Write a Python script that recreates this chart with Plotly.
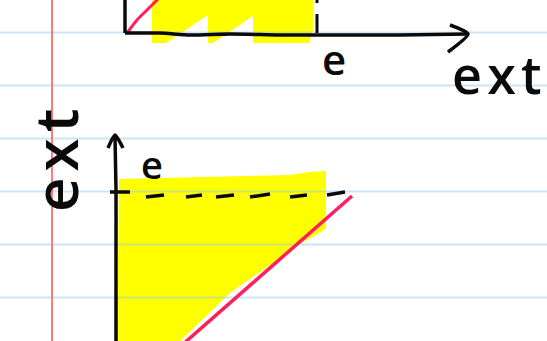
import plotly.graph_objects as go

# Page size in pixels; the sketch is drawn in page coordinates (y grows downward).
W, H = 547, 341

# Ruled notebook paper
rule_rows = [32.5, 85.5, 138.5, 191.5, 244.5, 297.5]
margin_x = 52

# --- upper sketch: horizontal "ext" axis ---
top_vaxis_x = [125, 125]
top_vaxis_y = [-5, 33]
top_haxis_x = [125, 160, 190, 230, 280, 320, 400, 468]
top_haxis_y = [33, 33, 35, 34, 35, 35, 35, 34]
top_arrow_x = [450, 468, 448]
top_arrow_y = [25, 34, 52]
top_curve_x = [127, 137, 147, 160]
top_curve_y = [33, 20, 10, -3]
top_mark_x = [317, 317]
top_mark_y = [14, 33]
top_dot_x = [317, 317]
top_dot_y = [-2, 3]
# highlighter strokes with a saw-tooth lower edge
top_fill_x = [152, 152, 166, 208, 208, 213, 253, 253, 309, 313, 313]
top_fill_y = [-5, 43, 43, 15, 43, 43, 16, 43, 43, 30, -5]

# --- lower sketch: vertical "ext" axis ---
low_vaxis_x = [115, 116, 116, 116, 116]
low_vaxis_y = [136, 190, 250, 300, 345]
low_arrow_x = [108, 115, 123]
low_arrow_y = [148, 135, 148]
low_tick_x = [110, 130]
low_tick_y = [192, 192]
dash_x0 = [146, 186, 216, 250, 290, 327]
dash_x1 = [164, 202, 234, 270, 307, 345]
dash_y0 = [197, 197, 197, 197, 197, 195]
dash_y1 = [195, 195, 195, 194, 195, 192]
low_line_x = [352, 182]
low_line_y = [196, 345]
low_fill_x = [119, 200, 290, 310, 326, 326, 300, 230, 176, 117]
low_fill_y = [179, 177, 175, 172, 171, 229, 244, 293, 345, 345]

# Labels: (text, x, y, size, angle)
labels = [
    ("e\u200ax\u200at", 497, 73, 52, 0),
    ("e", 334, 58, 42, 0),
    ("e", 152, 164, 38, 0),
    ("e\u200ax\u200at", 55, 161, 60, -90),
]

BLACK = "#0a0a0a"
PINK = "#ff1f5e"
YELLOW = "#ffff00"
RULE = "rgba(140,195,240,0.45)"

fig = go.Figure()


def stroke(xs, ys, color=BLACK, width=3.5):
    fig.add_trace(go.Scatter(
        x=xs, y=ys, mode="lines", hoverinfo="skip",
        line=dict(color=color, width=width, shape="spline", smoothing=0.6),
    ))


def fill(xs, ys):
    fig.add_trace(go.Scatter(
        x=xs, y=ys, mode="lines", fill="toself", fillcolor=YELLOW,
        line=dict(width=0), hoverinfo="skip",
    ))


# highlighter first, so the ruling shows through it
fill(top_fill_x, top_fill_y)
fill(low_fill_x, low_fill_y)

# ruled lines
rx, ry = [], []
for r in rule_rows:
    rx += [0, W, None]
    ry += [r, r, None]
fig.add_trace(go.Scatter(x=rx, y=ry, mode="lines", hoverinfo="skip",
                         line=dict(color=RULE, width=2)))

# margin line
fig.add_trace(go.Scatter(x=[margin_x, margin_x], y=[-5, H + 5], mode="lines",
                         hoverinfo="skip",
                         line=dict(color="#ff5a5a", width=1.6)))

# upper sketch
stroke(top_curve_x, top_curve_y, PINK, 3)
stroke(top_vaxis_x, top_vaxis_y)
stroke(top_haxis_x, top_haxis_y)
stroke(top_arrow_x, top_arrow_y)
stroke(top_mark_x, top_mark_y, width=3)
stroke(top_dot_x, top_dot_y, width=3)

# lower sketch
stroke(low_vaxis_x, low_vaxis_y)
stroke(low_arrow_x, low_arrow_y)
stroke(low_tick_x, low_tick_y)
for a, b, c, d in zip(dash_x0, dash_x1, dash_y0, dash_y1):
    stroke([a, b], [c, d], width=3.5)
stroke(low_line_x, low_line_y, PINK, 3.5)

for text, x, y, size, angle in labels:
    fig.add_annotation(
        x=x, y=y, text=text, showarrow=False, textangle=angle,
        xanchor="center", yanchor="middle",
        font=dict(family="Open Sans", size=size, color=BLACK, weight=600),
    )

fig.update_layout(
    width=W, height=H,
    margin=dict(l=0, r=0, t=0, b=0),
    paper_bgcolor="white", plot_bgcolor="white",
    showlegend=False,
    xaxis=dict(range=[0, W], visible=False, fixedrange=True),
    yaxis=dict(range=[H, 0], visible=False, fixedrange=True),
)

fig.write_html("out.html")
